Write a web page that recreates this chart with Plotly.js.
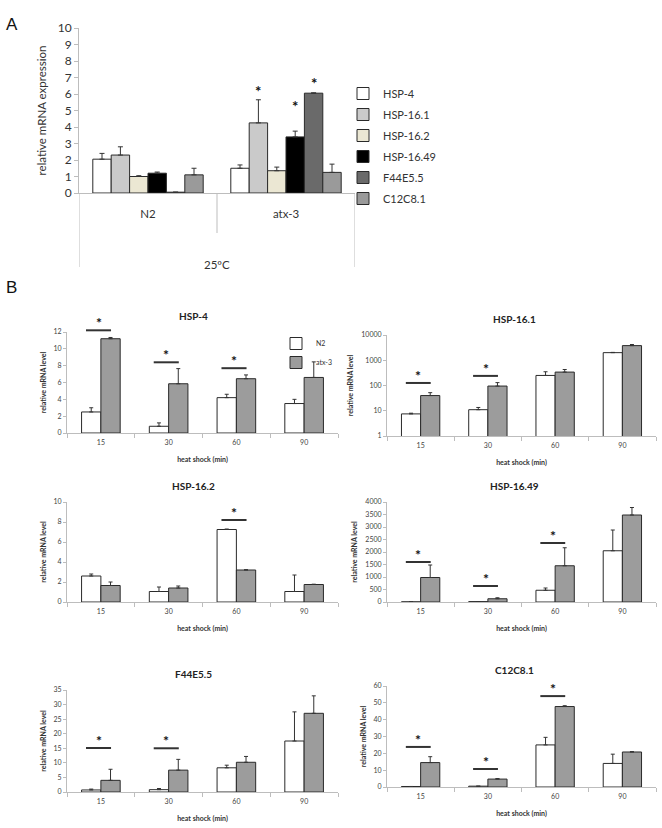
<!DOCTYPE html>
<html><head><meta charset="utf-8">
<script src="https://cdn.plot.ly/plotly-3.0.1.min.js"></script>
<style>html,body{margin:0;padding:0;background:#fff}#chart{width:662px;height:828px}</style>
</head><body><div id="chart"></div><script>
// ---------- Panel A data ----------
const genesA = ['HSP-4', 'HSP-16.1', 'HSP-16.2', 'HSP-16.49', 'F44E5.5', 'C12C8.1'];
const strainsA = ['N2', 'atx-3'];
const meanA_N2 = [2.05, 2.3, 1.0, 1.2, 0.05, 1.1];
const meanA_atx3 = [1.5, 4.25, 1.35, 3.4, 6.05, 1.25];
const errA_N2 = [0.35, 0.5, 0.05, 0.07, 0, 0.4];
const errA_atx3 = [0.2, 1.4, 0.22, 0.35, 0.02, 0.5];
const starsA = ['HSP-16.1', 'HSP-16.49', 'F44E5.5']; // significant in atx-3
const starLevelA = [6.4, 5.5, 6.9];

// ---------- Panel B data ----------
const timesB = ['15', '30', '60', '90'];
const strainsB = ['N2', 'atx-3'];
const hsp4_N2 = [2.5, 0.8, 4.2, 3.5];
const hsp4_N2_err = [0.5, 0.4, 0.4, 0.5];
const hsp4_atx3 = [11.2, 5.85, 6.45, 6.6];
const hsp4_atx3_err = [0.15, 1.8, 0.45, 1.85];
const hsp161_N2 = [7.5, 11, 250, 2000];
const hsp161_N2_err = [0.5, 2.5, 100, 50];
const hsp161_atx3 = [40, 95, 340, 3800];
const hsp161_atx3_err = [12, 35, 90, 400];
const hsp162_N2 = [2.6, 1.05, 7.25, 1.05];
const hsp162_N2_err = [0.2, 0.45, 0.05, 1.65];
const hsp162_atx3 = [1.65, 1.4, 3.2, 1.75];
const hsp162_atx3_err = [0.35, 0.2, 0.03, 0.03];
const hsp1649_N2 = [5, 15, 470, 2050];
const hsp1649_N2_err = [0, 5, 90, 830];
const hsp1649_atx3 = [980, 130, 1450, 3480];
const hsp1649_atx3_err = [500, 40, 720, 300];
const f44_N2 = [0.7, 0.8, 8.3, 17.5];
const f44_N2_err = [0.3, 0.4, 0.9, 10];
const f44_atx3 = [4.0, 7.5, 10.2, 27];
const f44_atx3_err = [3.8, 3.7, 2.0, 6];
const c12_N2 = [0.3, 0.5, 25, 14];
const c12_N2_err = [0, 0, 4.5, 5.5];
const c12_atx3 = [14.5, 4.7, 47.8, 20.8];
const c12_atx3_err = [3.5, 0.3, 0.5, 0.2];

// significance: [time index, bar level]
const sig_hsp4 = [[0, 12.2], [1, 8.4], [2, 7.7]];
const sig_hsp161 = [[0, 126], [1, 240]];
const sig_hsp162 = [[2, 8.2]];
const sig_hsp1649 = [[0, 1600], [1, 640], [2, 2360]];
const sig_f44 = [[0, 15.1], [1, 15.0]];
const sig_c12 = [[0, 23.8], [1, 10.7], [2, 54]];

// ---------- geometry helpers ----------
const W = 662, H = 828;
const px = (a, b) => [a / W, b / W];
const py = (top, bottom) => [1 - bottom / H, 1 - top / H];
const FONT = 'Lato, "Open Sans", "DejaVu Sans", sans-serif';
const AXC = '#bdbdbd';

const colorsA = ['#ffffff', '#cacaca', '#ebe7d3', '#000000', '#6a6a6a', '#9a9a9a'];
const colorsB = ['#ffffff', '#9c9c9c'];

const data = [];
const nA = genesA.length;
const wA = 0.8 / nA;
genesA.forEach((g, i) => {
  data.push({
    type: 'bar', name: g, x: strainsA, y: [meanA_N2[i], meanA_atx3[i]],
    xaxis: 'x', yaxis: 'y', width: wA, offset: -0.4 + i * wA,
    marker: { color: colorsA[i], line: { color: '#2a2a2a', width: 1 } },
    error_y: { type: 'data', symmetric: false, array: [errA_N2[i], errA_atx3[i]], arrayminus: [0, 0],
      color: '#333', thickness: 1, width: 2.5 },
    legend: 'legend', legendgroup: g, hoverinfo: 'skip'
  });
});

const panelsB = [
  { title: 'HSP-4', n2: hsp4_N2, n2e: hsp4_N2_err, a: hsp4_atx3, ae: hsp4_atx3_err, sig: sig_hsp4,
    xd: px(67, 338), yd: py(332, 433), yax: { range: [0, 12], dtick: 2 } },
  { title: 'HSP-16.1', n2: hsp161_N2, n2e: hsp161_N2_err, a: hsp161_atx3, ae: hsp161_atx3_err, sig: sig_hsp161,
    xd: px(387, 656), yd: py(335, 436), yax: { type: 'log', range: [0, 4], dtick: 1, tickformat: 'd' } },
  { title: 'HSP-16.2', n2: hsp162_N2, n2e: hsp162_N2_err, a: hsp162_atx3, ae: hsp162_atx3_err, sig: sig_hsp162,
    xd: px(67, 338), yd: py(502, 602), yax: { range: [0, 10], dtick: 2 } },
  { title: 'HSP-16.49', n2: hsp1649_N2, n2e: hsp1649_N2_err, a: hsp1649_atx3, ae: hsp1649_atx3_err, sig: sig_hsp1649,
    xd: px(387, 656), yd: py(502, 602), yax: { range: [0, 4000], dtick: 500 } },
  { title: 'F44E5.5', n2: f44_N2, n2e: f44_N2_err, a: f44_atx3, ae: f44_atx3_err, sig: sig_f44,
    xd: px(67, 338), yd: py(690, 792), yax: { range: [0, 35], dtick: 5 } },
  { title: 'C12C8.1', n2: c12_N2, n2e: c12_N2_err, a: c12_atx3, ae: c12_atx3_err, sig: sig_c12,
    xd: px(387, 656), yd: py(686, 787), yax: { range: [0, 60], dtick: 10 } }
];

const layout = {
  width: W, height: H, margin: { l: 0, r: 0, t: 0, b: 0 },
  paper_bgcolor: '#fff', plot_bgcolor: '#fff',
  font: { family: FONT, color: '#333' },
  barmode: 'overlay', showlegend: true,
  xaxis: { domain: px(79, 355), anchor: 'y', type: 'category', range: [-0.5, 1.5],
    showline: true, linecolor: AXC, linewidth: 1, ticks: 'outside', ticklen: 10,
    tickcolor: 'rgba(0,0,0,0)', tickfont: { size: 11.5, color: '#333' }, showgrid: false, zeroline: false, fixedrange: true },
  yaxis: { domain: py(28, 193), anchor: 'x', range: [0, 10], dtick: 1, showline: true, linecolor: AXC,
    ticks: 'outside', ticklen: 4, tickcolor: AXC, tickfont: { size: 12, color: '#333' }, showgrid: false, zeroline: false,
    title: { text: 'relative mRNA expression', font: { size: 11.5, color: '#333' } }, fixedrange: true },
  legend: { x: 343 / W, y: 1 - 79 / H, xanchor: 'left', yanchor: 'top', font: { size: 11, color: '#333' },
    tracegroupgap: 2, bgcolor: 'rgba(0,0,0,0)', traceorder: 'grouped' },
  legend2: { x: 276 / W, y: 1 - 329 / H, xanchor: 'left', yanchor: 'top', font: { size: 7, color: '#333' },
    bgcolor: 'rgba(0,0,0,0)', tracegroupgap: 0 },
  annotations: [], shapes: []
};

panelsB.forEach((p, k) => {
  const n = k + 2;
  const xn = 'x' + n, yn = 'y' + n;
  const bw = 0.285;
  [[p.n2, p.n2e], [p.a, p.ae]].forEach((s, j) => {
    data.push({
      type: 'bar', name: strainsB[j], x: timesB, y: s[0], xaxis: xn, yaxis: yn,
      width: bw, offset: j === 0 ? -bw : 0,
      marker: { color: colorsB[j], line: { color: '#2a2a2a', width: 1 } },
      error_y: { type: 'data', symmetric: false, array: s[1], arrayminus: s[1].map(() => 0),
        color: '#333', thickness: 1, width: 2 },
      legend: 'legend2', showlegend: k === 0, hoverinfo: 'skip'
    });
  });
  layout['xaxis' + n] = { domain: p.xd, anchor: yn, type: 'category', range: [-0.5, 3.5],
    showline: true, linecolor: AXC, linewidth: 1, ticks: 'outside', tickson: 'boundaries', ticklen: 4,
    ticklabelstandoff: 3,
    tickcolor: AXC, tickfont: { size: 7, color: '#444' }, showgrid: false, zeroline: false, fixedrange: true,
    title: { text: '<b>heat shock (min)</b>', font: { size: 7, color: '#333' }, standoff: 11 } };
  layout['yaxis' + n] = Object.assign({ domain: p.yd, anchor: xn, showline: true, linecolor: AXC, linewidth: 1,
    ticks: 'outside', ticklen: 3, tickcolor: AXC, tickfont: { size: 7, color: '#444' }, showgrid: false,
    zeroline: false, fixedrange: true,
    title: { text: '<b>relative mRNA level</b>', font: { size: 7, color: '#333' }, standoff: 6 } }, p.yax);
  // panel title
  layout.annotations.push({ xref: 'paper', yref: 'paper', x: (k % 2 === 0 ? 193 : 514) / W,
    y: p.yd[1] + 16 / H, text: '<b>' + p.title + '</b>', showarrow: false,
    font: { size: 10, color: '#222' }, xanchor: 'center', yanchor: 'middle' });
  // significance bars: positioned relative to the y-axis range so they may sit above the plot area
  const isLog = p.yax.type === 'log';
  const r = p.yax.range;
  const toDomain = v => ((isLog ? Math.log10(v) : v) - r[0]) / (r[1] - r[0]);
  p.sig.forEach(([ti, lv]) => {
    const yd = toDomain(lv);
    layout.shapes.push({ type: 'line', xref: xn, yref: yn + ' domain', x0: ti - 0.22, x1: ti + 0.15, y0: yd, y1: yd,
      line: { color: '#333', width: 2 } });
    layout.annotations.push({ xref: xn, yref: yn + ' domain', x: ti - 0.035, y: yd,
      text: '<b>*</b>', showarrow: false, yanchor: 'bottom', yshift: -3, font: { size: 14, color: '#111' } });
  });
});

// Panel A category dividers and labels
const yBase = 1 - 193 / H;
[[-0.5, 267], [0.5, 233], [1.5, 267]].forEach(([xv, bot]) => {
  layout.shapes.push({ type: 'line', xref: 'x', yref: 'paper', x0: xv, x1: xv, y0: yBase, y1: 1 - bot / H,
    line: { color: AXC, width: 1 } });
});
layout.annotations.push({ xref: 'x', yref: 'paper', x: 0.5, y: 1 - 256 / H, text: '25ºC', showarrow: false,
  font: { size: 11.5, color: '#333' } });
starsA.forEach((g, i) => {
  const gi = genesA.indexOf(g);
  layout.annotations.push({ xref: 'x', yref: 'y', x: 1 - 0.4 + gi * wA + wA / 2, y: starLevelA[i],
    text: '<b>*</b>', showarrow: false, yshift: -4, font: { size: 15, color: '#111' } });
});
layout.annotations.push({ xref: 'paper', yref: 'paper', x: 4 / W, y: 1 - 13 / H, text: 'A', showarrow: false,
  xanchor: 'left', font: { size: 17, color: '#111', family: '"Liberation Sans", Arial, sans-serif' } });
layout.annotations.push({ xref: 'paper', yref: 'paper', x: 4 / W, y: 1 - 287 / H, text: 'B', showarrow: false,
  xanchor: 'left', font: { size: 17, color: '#111', family: '"Liberation Sans", Arial, sans-serif' } });

Plotly.newPlot('chart', data, layout, { staticPlot: true, displayModeBar: false });
</script></body></html>
